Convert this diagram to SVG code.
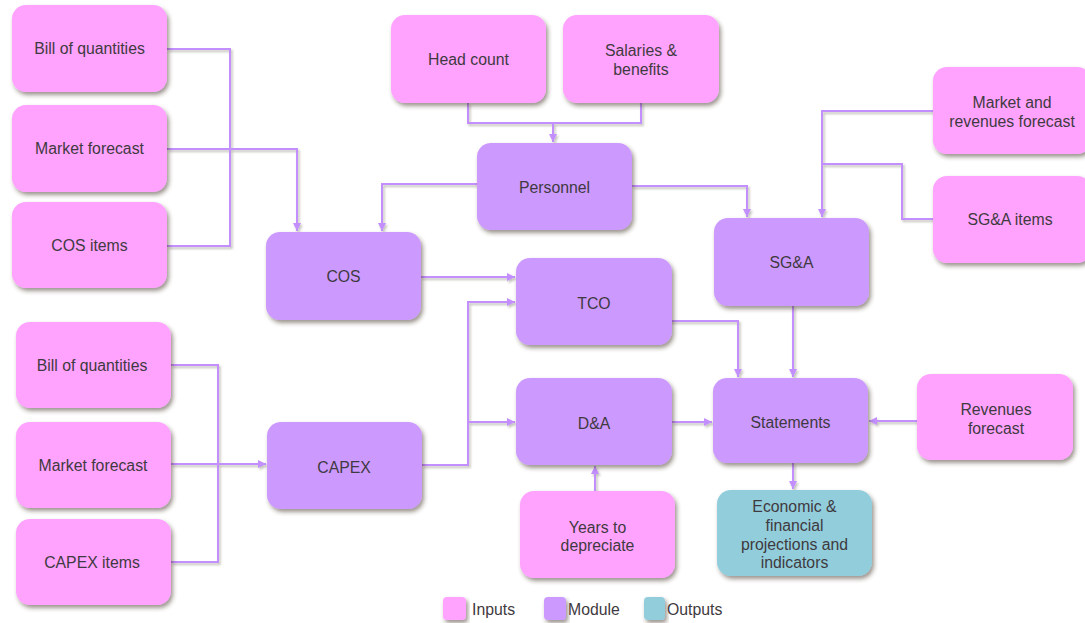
<svg xmlns="http://www.w3.org/2000/svg" width="1085" height="623" viewBox="0 0 1085 623">
  <style>
    .box { stroke: none; filter: url(#shadow); }
    .input { fill: #FFA3FF; }
    .module { fill: #CC99FF; }
    .output { fill: #92CDDC; }
    .lbl { font-family: "Liberation Sans", Arial, sans-serif; font-size: 15.8px; fill: #3F3A40; text-anchor: middle; }
    .leg { font-family: "Liberation Sans", Arial, sans-serif; font-size: 15.8px; fill: #3F3A40; }
    .conn path { fill: none; stroke: #C38FFF; stroke-width: 2; }
  </style>
  <defs>
    <filter id="shadow" x="-10%" y="-10%" width="125%" height="130%">
      <feDropShadow dx="2" dy="3" stdDeviation="2" flood-color="#3a2a20" flood-opacity="0.5"/>
    </filter>
    <filter id="lineshadow" x="-5%" y="-5%" width="110%" height="110%">
      <feDropShadow dx="1.5" dy="2" stdDeviation="1.2" flood-color="#3a2a20" flood-opacity="0.3"/>
    </filter>
    <marker id="arrow" markerUnits="userSpaceOnUse" markerWidth="9" markerHeight="9" refX="8" refY="4" orient="auto">
      <path d="M0,0 L8,4 L0,8 z" fill="#C38FFF"/>
    </marker>
  </defs>

  <rect width="1085" height="623" fill="#FFFFFF"/>

  <!-- connectors -->
  <g id="connectors" class="conn" filter="url(#lineshadow)">
    <path d="M167,49 H230 V246 H167"/>
    <path d="M167,149 H297 V231" marker-end="url(#arrow)"/>
    <path d="M468,103 V123 H641 V103"/>
    <path d="M553,123 V142" marker-end="url(#arrow)"/>
    <path d="M477,184 H382 V231" marker-end="url(#arrow)"/>
    <path d="M632,186 H747 V217" marker-end="url(#arrow)"/>
    <path d="M933,111 H822 V217" marker-end="url(#arrow)"/>
    <path d="M933,219 H902 V164 H822"/>
    <path d="M421,277 H515" marker-end="url(#arrow)"/>
    <path d="M422,465 H468 V302 H515" marker-end="url(#arrow)"/>
    <path d="M468,422 H515" marker-end="url(#arrow)"/>
    <path d="M171,365 H218 V562 H171"/>
    <path d="M171,464 H266" marker-end="url(#arrow)"/>
    <path d="M667,321 H738 V377" marker-end="url(#arrow)"/>
    <path d="M793,306 V377" marker-end="url(#arrow)"/>
    <path d="M672,422 H712" marker-end="url(#arrow)"/>
    <path d="M793,463 V489" marker-end="url(#arrow)"/>
    <path d="M595,491 V466" marker-end="url(#arrow)"/>
    <path d="M917,421 H869" marker-end="url(#arrow)"/>
  </g>

  <!-- input nodes -->
  <g id="bill-cos">
    <rect class="box input" x="12" y="5" width="155" height="87" rx="14"/>
    <text class="lbl" x="89.5" y="54">Bill of quantities</text>
  </g>
  <g id="market-cos">
    <rect class="box input" x="12" y="105" width="155" height="87" rx="14"/>
    <text class="lbl" x="89.5" y="154">Market forecast</text>
  </g>
  <g id="cos-items">
    <rect class="box input" x="12" y="202" width="155" height="86" rx="14"/>
    <text class="lbl" x="89.5" y="251">COS items</text>
  </g>
  <g id="head-count">
    <rect class="box input" x="391" y="15" width="155" height="88" rx="14"/>
    <text class="lbl" x="468.5" y="65">Head count</text>
  </g>
  <g id="salaries">
    <rect class="box input" x="563" y="15" width="156" height="88" rx="14"/>
    <text class="lbl" x="641" y="56">Salaries &amp;</text>
    <text class="lbl" x="641" y="75">benefits</text>
  </g>
  <g id="market-revenues">
    <rect class="box input" x="933" y="67" width="158" height="87" rx="14"/>
    <text class="lbl" x="1012" y="108">Market and</text>
    <text class="lbl" x="1012" y="127">revenues forecast</text>
  </g>
  <g id="sga-items">
    <rect class="box input" x="933" y="176" width="158" height="87" rx="14"/>
    <text class="lbl" x="1010" y="225">SG&amp;A items</text>
  </g>
  <g id="bill-capex">
    <rect class="box input" x="16" y="322" width="155" height="86" rx="14"/>
    <text class="lbl" x="92" y="371">Bill of quantities</text>
  </g>
  <g id="market-capex">
    <rect class="box input" x="16" y="422" width="155" height="86" rx="14"/>
    <text class="lbl" x="93" y="471">Market forecast</text>
  </g>
  <g id="capex-items">
    <rect class="box input" x="16" y="519" width="155" height="86" rx="14"/>
    <text class="lbl" x="92" y="568">CAPEX items</text>
  </g>
  <g id="years">
    <rect class="box input" x="520" y="491" width="155" height="87" rx="14"/>
    <text class="lbl" x="597.5" y="533">Years to</text>
    <text class="lbl" x="597.5" y="551">depreciate</text>
  </g>
  <g id="revenues-forecast">
    <rect class="box input" x="917" y="374" width="156" height="86" rx="14"/>
    <text class="lbl" x="996" y="415">Revenues</text>
    <text class="lbl" x="996" y="434">forecast</text>
  </g>

  <!-- module nodes -->
  <g id="cos">
    <rect class="box module" x="266" y="232" width="155" height="88" rx="14"/>
    <text class="lbl" x="343.5" y="282">COS</text>
  </g>
  <g id="personnel">
    <rect class="box module" x="477" y="143" width="155" height="87" rx="14"/>
    <text class="lbl" x="554.5" y="193">Personnel</text>
  </g>
  <g id="sga">
    <rect class="box module" x="714" y="218" width="155" height="88" rx="14"/>
    <text class="lbl" x="791.5" y="268">SG&amp;A</text>
  </g>
  <g id="tco">
    <rect class="box module" x="516" y="258" width="156" height="87" rx="14"/>
    <text class="lbl" x="594" y="309">TCO</text>
  </g>
  <g id="da">
    <rect class="box module" x="516" y="378" width="156" height="87" rx="14"/>
    <text class="lbl" x="594" y="429">D&amp;A</text>
  </g>
  <g id="statements">
    <rect class="box module" x="713" y="378" width="155" height="85" rx="14"/>
    <text class="lbl" x="790.5" y="428">Statements</text>
  </g>
  <g id="capex">
    <rect class="box module" x="267" y="422" width="155" height="87" rx="14"/>
    <text class="lbl" x="344" y="473">CAPEX</text>
  </g>

  <!-- output node -->
  <g id="projections">
    <rect class="box output" x="717" y="490" width="155" height="86" rx="14"/>
    <text class="lbl" x="794.5" y="512">Economic &amp;</text>
    <text class="lbl" x="794.5" y="531">financial</text>
    <text class="lbl" x="794.5" y="550">projections and</text>
    <text class="lbl" x="794.5" y="568">indicators</text>
  </g>

  <!-- legend -->
  <g id="legend">
    <rect class="box input" x="443" y="597" width="23" height="23" rx="4"/>
    <text class="leg" x="472" y="615">Inputs</text>
    <rect class="box module" x="544" y="597" width="22" height="23" rx="4"/>
    <text class="leg" x="568" y="615">Module</text>
    <rect class="box output" x="644" y="597" width="21" height="23" rx="4"/>
    <text class="leg" x="667" y="615">Outputs</text>
  </g>
</svg>
